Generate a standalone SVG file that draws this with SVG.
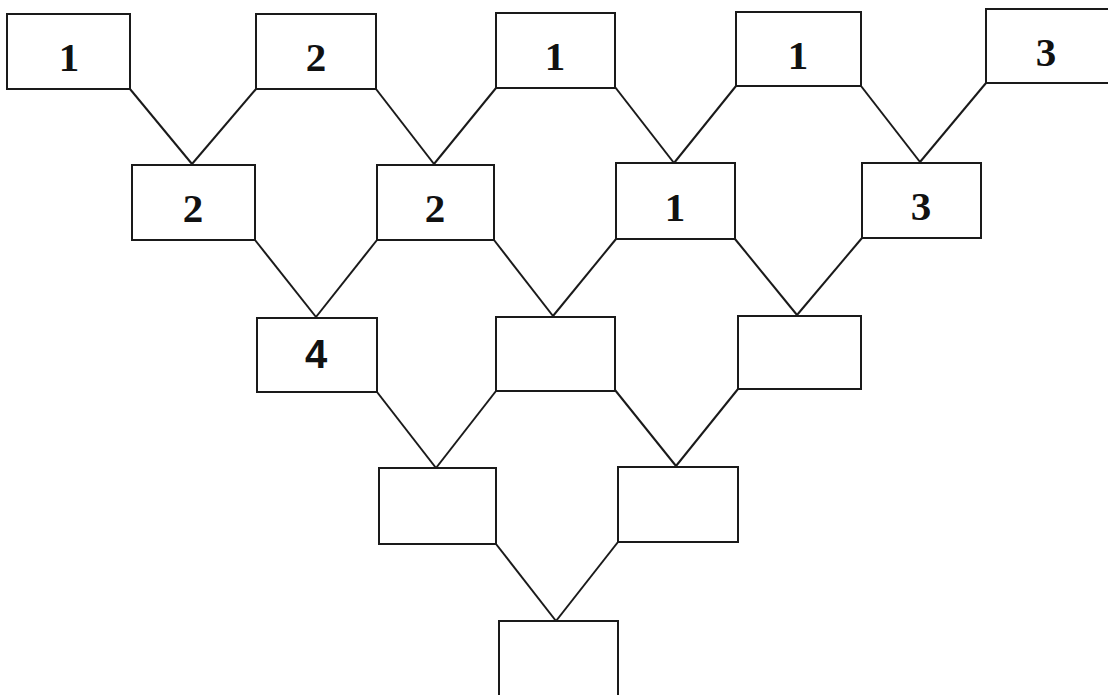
<svg xmlns="http://www.w3.org/2000/svg" width="1108" height="695" viewBox="0 0 1108 695">
<style>
.b{fill:#fff;stroke:#1a1a1a;stroke-width:2}
.t{font-family:"Liberation Serif",serif;font-weight:bold;font-size:41px;fill:#111;text-anchor:middle}
.s{font-family:"Liberation Sans",sans-serif;font-weight:bold;font-size:40px;fill:#111;text-anchor:middle}
.c line{stroke:#1a1a1a;stroke-width:2}
</style>
<rect width="1108" height="695" fill="#fff"/>
<g class="c" id="connectors">
<line x1="130" y1="89" x2="192" y2="164"/><line x1="256" y1="89" x2="192" y2="164"/>
<line x1="376" y1="89" x2="434" y2="164"/><line x1="496" y1="88" x2="434" y2="164"/>
<line x1="615" y1="87" x2="674" y2="163"/><line x1="736" y1="86" x2="674" y2="163"/>
<line x1="861" y1="86" x2="920" y2="162"/><line x1="986" y1="83" x2="920" y2="162"/>
<line x1="255" y1="240" x2="316" y2="317"/><line x1="377" y1="240" x2="316" y2="317"/>
<line x1="494" y1="240" x2="553" y2="316"/><line x1="616" y1="239" x2="553" y2="316"/>
<line x1="735" y1="239" x2="797" y2="315"/><line x1="862" y1="238" x2="797" y2="315"/>
<line x1="377" y1="392" x2="436" y2="468"/><line x1="496" y1="391" x2="436" y2="468"/>
<line x1="615" y1="390" x2="676" y2="466"/><line x1="738" y1="389" x2="676" y2="466"/>
<line x1="496" y1="544" x2="556" y2="621"/><line x1="618" y1="542" x2="556" y2="621"/>
</g>
<g id="n1"><rect class="b" x="7" y="14" width="123" height="75"/><text class="t" x="69" y="71">1</text></g>
<g id="n2"><rect class="b" x="256" y="14" width="120" height="75"/><text class="t" x="316" y="71">2</text></g>
<g id="n3"><rect class="b" x="496" y="13" width="119" height="75"/><text class="t" x="555" y="70">1</text></g>
<g id="n4"><rect class="b" x="736" y="12" width="125" height="74"/><text class="t" x="798" y="69">1</text></g>
<g id="n5"><rect class="b" x="986" y="9" width="124" height="74"/><text class="t" x="1046" y="66">3</text></g>
<g id="n6"><rect class="b" x="132" y="165" width="123" height="75"/><text class="t" x="193" y="222">2</text></g>
<g id="n7"><rect class="b" x="377" y="165" width="117" height="75"/><text class="t" x="435" y="222">2</text></g>
<g id="n8"><rect class="b" x="616" y="163" width="119" height="76"/><text class="t" x="675" y="221">1</text></g>
<g id="n9"><rect class="b" x="862" y="163" width="119" height="75"/><text class="t" x="921" y="220">3</text></g>
<g id="n10"><rect class="b" x="257" y="318" width="120" height="74"/><text class="s" x="316" y="368">4</text></g>
<g id="n11"><rect class="b" x="496" y="317" width="119" height="74"/></g>
<g id="n12"><rect class="b" x="738" y="316" width="123" height="73"/></g>
<g id="n13"><rect class="b" x="379" y="468" width="117" height="76"/></g>
<g id="n14"><rect class="b" x="618" y="467" width="120" height="75"/></g>
<g id="n15"><rect class="b" x="499" y="621" width="119" height="80"/></g>
</svg>
